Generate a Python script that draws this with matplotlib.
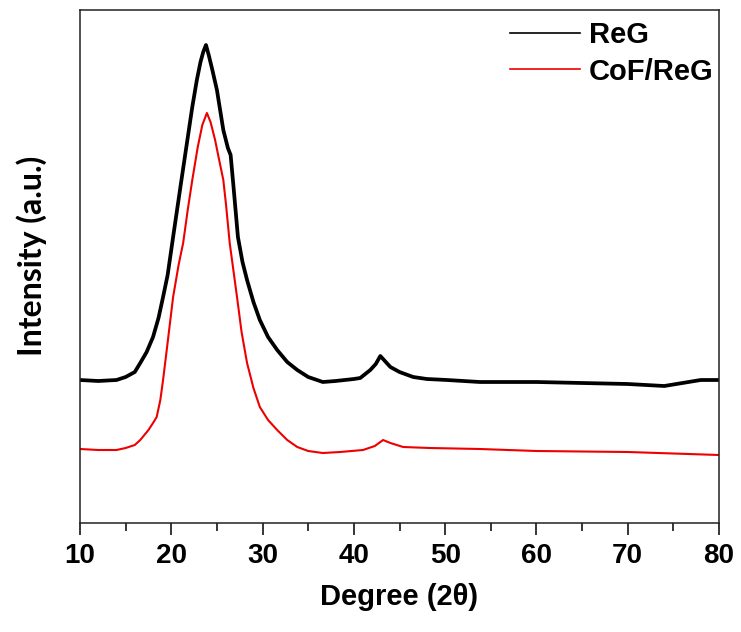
import matplotlib
matplotlib.use("Agg")
import matplotlib.pyplot as plt
from matplotlib.lines import Line2D
from matplotlib.ticker import MultipleLocator

# ---- data (intensity in arbitrary units) ----
reg_2theta = [10, 12, 14, 15, 16, 16.6, 17.3, 18.0, 18.6, 19.1, 19.6, 20.2, 21.0,
              21.6, 22.3, 22.8, 23.2, 23.5, 23.8, 24.1, 24.5, 25.0, 25.7, 26.2,
              26.5, 26.8, 27.3, 27.8, 28.3, 29.0, 29.7, 30.6, 31.6, 32.7, 33.8,
              35.0, 36.6, 38.0, 40.0, 40.7, 41.8, 42.4, 42.9, 43.5, 44.0, 45.0,
              46.5, 48.0, 50.2, 53.8, 60, 65, 70, 74, 76, 78, 80]
reg_int = [143, 142, 143, 146, 151, 160, 171, 186, 205, 226, 248, 286, 336,
           373, 416, 443, 461, 471, 478, 468, 453, 433, 393, 375,
           368, 338, 286, 261, 243, 221, 203, 186, 173, 161, 153,
           146, 141, 142, 144, 145, 153, 159, 167, 161, 156, 151,
           146, 144, 143, 141, 141, 140, 139, 137, 140, 143, 143]

cof_2theta = [10, 12, 14, 15, 16, 16.6, 17.5, 18.0, 18.4, 18.8, 19.1, 19.5, 20.2,
              20.8, 21.3, 21.8, 22.3, 22.9, 23.4, 23.9, 24.3, 24.8, 25.2, 25.7,
              26.0, 26.4, 26.8, 27.2, 27.7, 28.3, 29.0, 29.7, 30.6, 31.6, 32.7,
              33.8, 35.0, 36.6, 38.5, 41.0, 42.3, 43.2, 44.0, 45.4, 48.3, 53.8,
              60, 70, 80]
cof_int = [74, 73, 73, 75, 78, 83, 93, 100, 106, 123, 143, 173, 226,
           258, 280, 313, 343, 376, 398, 410, 401, 383, 365, 343,
           318, 280, 253, 226, 191, 160, 135, 116, 103, 93, 83,
           76, 72, 70, 71, 73, 77, 83, 80, 76, 75, 74,
           72, 71, 68]

series_labels = ["ReG", "CoF/ReG"]
series_colors = ["black", "#ee0000"]
x_ticks = [10, 20, 30, 40, 50, 60, 70, 80]

fig = plt.figure(figsize=(7.41, 6.32), dpi=100)
ax = fig.add_axes([80 / 741, 109 / 632, 639 / 741, 513 / 632])

ax.plot(reg_2theta, reg_int, color=series_colors[0], lw=2.7, solid_joinstyle="round")
ax.plot(cof_2theta, cof_int, color=series_colors[1], lw=1.5, solid_joinstyle="round")

ax.set_xlim(10, 80)
ax.set_ylim(0, 513)
ax.set_xticks(x_ticks)
ax.xaxis.set_minor_locator(MultipleLocator(5))
ax.set_yticks([])
ax.tick_params(axis="x", which="major", direction="out", length=8.5, width=1.1,
               pad=6, top=False)
ax.tick_params(axis="x", which="minor", direction="out", length=6, width=1.1, top=False)
for lab in ax.get_xticklabels():
    lab.set_fontfamily("Liberation Sans")
    lab.set_fontweight("bold")
    lab.set_fontsize(20)
for sp in ax.spines.values():
    sp.set_linewidth(1.1)
    sp.set_color("#222222")

ax.set_xlabel("Degree (2θ)", fontfamily="Liberation Sans", fontweight="bold",
              fontsize=21, labelpad=10)
ax.set_ylabel("Intensity (a.u.)", fontfamily="Lato", fontweight="bold",
              fontsize=23)
ax.yaxis.set_label_coords(-0.051, 0.52)

handles = [Line2D([], [], color=series_colors[0], lw=1.2, label=series_labels[0]),
           Line2D([], [], color=series_colors[1], lw=1.2, label=series_labels[1])]
ax.legend(handles=handles, loc="upper right", bbox_to_anchor=(1.032, 1.03),
          frameon=False, handlelength=2.4, handletextpad=0.3, labelspacing=0.3,
          prop={"family": "Liberation Sans", "weight": "bold", "size": 21})

fig.savefig("out.png", dpi=100)
